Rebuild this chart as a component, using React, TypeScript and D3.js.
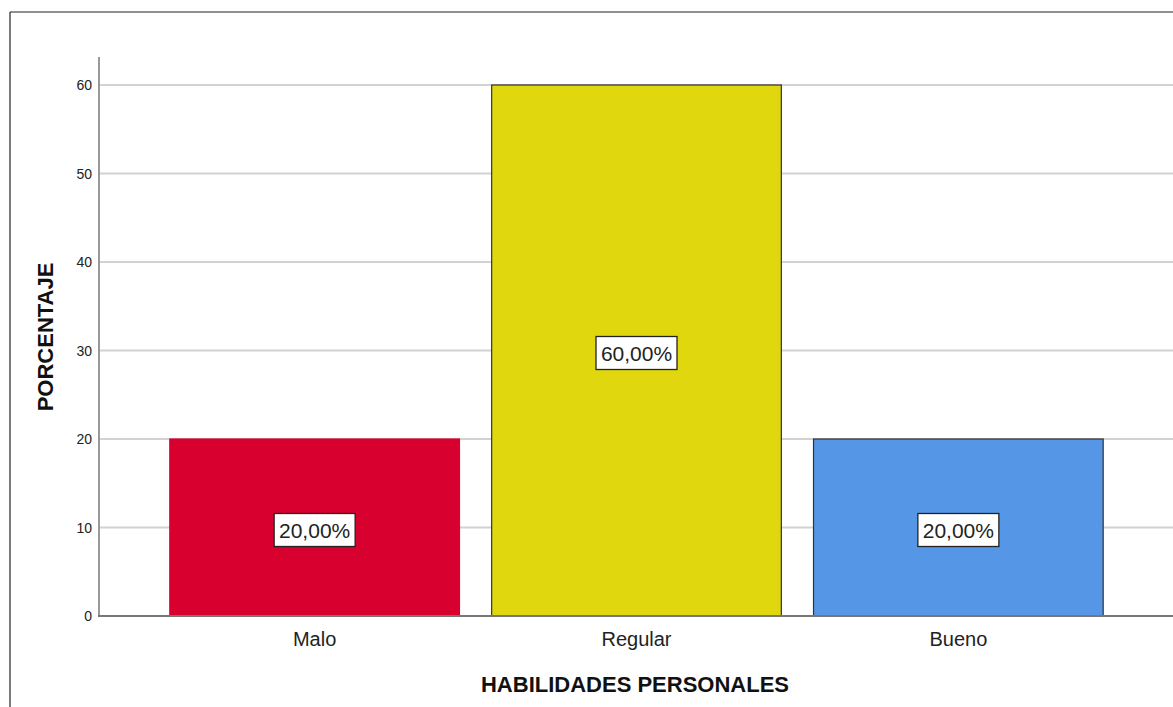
import React from "react";
import * as d3 from "d3";

const categories = ["Malo", "Regular", "Bueno"];
const values = [20, 60, 20];
const labels = ["20,00%", "60,00%", "20,00%"];
const colors = ["#D7002F", "#E1D70E", "#5596E6"];
const strokes = ["#D7002F", "#333333", "#333333"];
const yTicks = [0, 10, 20, 30, 40, 50, 60];
const yTitle = "PORCENTAJE";
const xTitle = "HABILIDADES PERSONALES";

const W = 1173;
const H = 707;
const left = 99;
const right = 1174;
const y0 = 616;
const yTop = 57;

export default function App() {
  const y = d3.scaleLinear().domain([0, 60]).range([y0, 85]);
  const x = d3
    .scaleBand<string>()
    .domain(categories)
    .range([left, right])
    .paddingInner(0.1)
    .paddingOuter(0.22);
  const font = "'Liberation Sans', Arial, sans-serif";
  return (
    <svg
      width={W}
      height={H}
      style={{ position: "absolute", left: 0, top: 0, background: "#fff" }}
      fontFamily={font}
    >
      <rect x={0} y={0} width={W} height={H} fill="#fff" />
      {/* border */}
      <line x1={10} y1={12} x2={W} y2={12} stroke="#222" strokeWidth={1.2} />
      <line x1={10} y1={12} x2={10} y2={H} stroke="#222" strokeWidth={1.2} />
      {/* grid */}
      {yTicks
        .filter((t) => t > 0)
        .map((t) => (
          <line
            key={t}
            x1={left}
            x2={W}
            y1={y(t)}
            y2={y(t)}
            stroke="#d2d2d2"
            strokeWidth={2}
          />
        ))}
      {/* bars */}
      {categories.map((c, i) => (
        <rect
          key={c}
          x={x(c)!}
          y={y(values[i])}
          width={x.bandwidth()}
          height={y(0) - y(values[i])}
          fill={colors[i]}
          stroke={strokes[i]}
          strokeWidth={1.2}
        />
      ))}
      {/* axes */}
      <line x1={left} x2={left} y1={yTop} y2={y0} stroke="#999" strokeWidth={2} />
      <line x1={left - 1} x2={W} y1={y0} y2={y0} stroke="#777" strokeWidth={2} />
      {yTicks.map((t) => (
        <text
          key={t}
          x={92}
          y={y(t)}
          dy="0.36em"
          textAnchor="end"
          fontSize={14}
          fill="#222"
        >
          {t}
        </text>
      ))}
      {categories.map((c) => (
        <text
          key={c}
          x={x(c)! + x.bandwidth() / 2}
          y={646}
          textAnchor="middle"
          fontSize={20}
          fill="#222"
        >
          {c}
        </text>
      ))}
      {/* value labels */}
      {categories.map((c, i) => {
        const cx = x(c)! + x.bandwidth() / 2;
        const cy = y(values[i] / 2) + 2.5;
        return (
          <g key={c}>
            <rect
              x={cx - 40.5}
              y={cy - 16.5}
              width={81}
              height={33}
              fill="#fff"
              stroke="#222"
              strokeWidth={1.3}
            />
            <text
              x={cx}
              y={cy}
              dy="0.36em"
              textAnchor="middle"
              fontSize={21}
              fill="#222"
            >
              {labels[i]}
            </text>
          </g>
        );
      })}
      {/* titles */}
      <text
        x={635}
        y={692}
        textAnchor="middle"
        fontSize={22}
        fontWeight="bold"
        fill="#111"
      >
        {xTitle}
      </text>
      <text
        transform={`translate(53,337) rotate(-90)`}
        textAnchor="middle"
        fontSize={22}
        fontWeight="bold"
        fill="#111"
      >
        {yTitle}
      </text>
    </svg>
  );
}
